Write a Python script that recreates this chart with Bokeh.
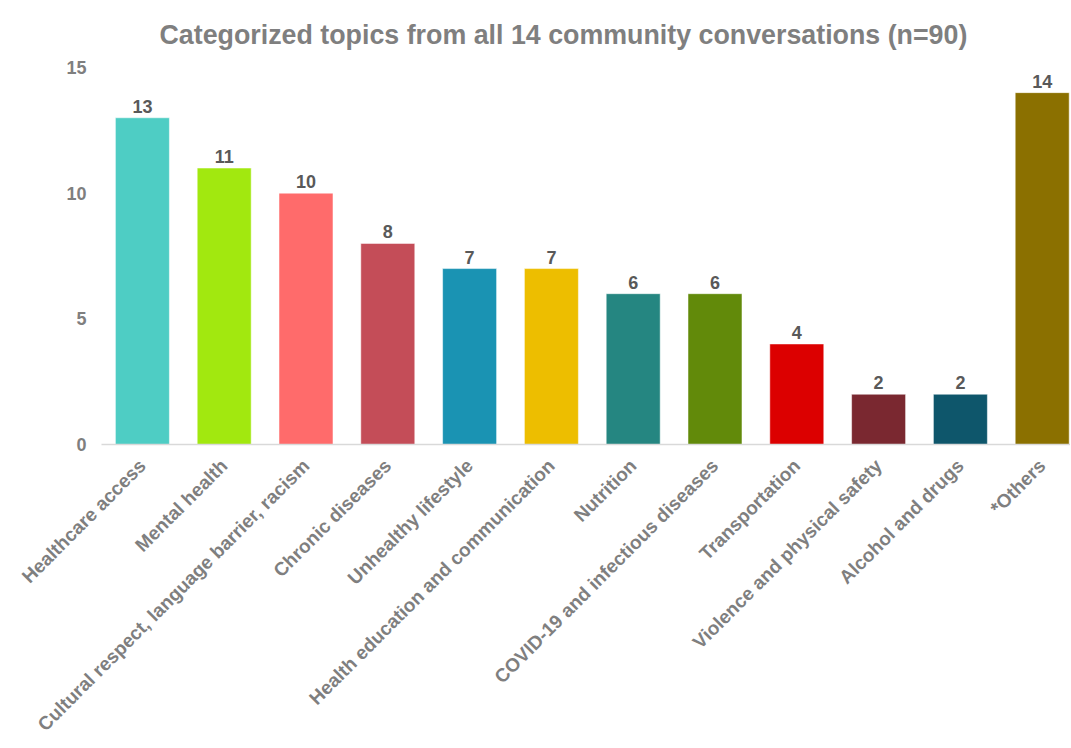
import math
from bokeh.plotting import figure
from bokeh.models import ColumnDataSource, Range1d, FixedTicker, LabelSet
from bokeh.core.properties import value
from bokeh.embed import file_html
from bokeh.resources import INLINE

categories = [
    "Healthcare access", "Mental health", "Cultural respect, language barrier, racism",
    "Chronic diseases", "Unhealthy lifestyle", "Health education and communication",
    "Nutrition", "COVID-19 and infectious diseases", "Transportation",
    "Violence and physical safety", "Alcohol and drugs", "*Others",
]
counts = [13, 11, 10, 8, 7, 7, 6, 6, 4, 2, 2, 14]
colors = ["#4ECDC4", "#A2E80F", "#FF6B6B", "#C44D58", "#1A93B3", "#EDBE00",
          "#258681", "#628A0A", "#DC0000", "#7A2830", "#0E566B", "#8B7000"]
y_ticks = [0, 5, 10, 15]
title_text = "Categorized topics from all 14 community conversations (n=90)"

xpos = [i + 0.5 for i in range(len(categories))]
src = ColumnDataSource(dict(x=xpos, top=counts, color=colors,
                            label=[str(c) for c in counts]))

FONT = "Liberation Sans"
p = figure(width=1070, height=745, output_backend="svg", toolbar_location=None,
           x_range=Range1d(0, 11.846), y_range=Range1d(0, 15),
           min_border_left=101, min_border_right=0, min_border_top=65,
           min_border_bottom=300)
p.outline_line_color = None
p.grid.visible = False

p.title.text = title_text
p.title.text_font = FONT
p.title.text_font_size = "26.8px"
p.title.text_color = "#7f7f7f"
p.title.text_font_style = "bold"
p.title.align = "left"
p.title.offset = 58
p.title.standoff = 35

p.vbar(x="x", top="top", width=0.66, bottom=0, source=src,
       fill_color="color", line_color="white", line_alpha=0.5, line_width=1)

labels = LabelSet(x="x", y="top", text="label", source=src, y_offset=5,
                  text_align="center", text_baseline="bottom",
                  text_font=value(FONT), text_font_size=value("18px"),
                  text_font_style="bold", text_color="#595959")
p.add_layout(labels)

ya = p.yaxis[0]
ya.ticker = FixedTicker(ticks=y_ticks)
ya.axis_line_color = None
ya.major_tick_line_color = None
ya.minor_tick_line_color = None
ya.major_label_text_font = FONT
ya.major_label_text_font_size = "18px"
ya.major_label_text_font_style = "bold"
ya.major_label_text_color = "#7f7f7f"
ya.major_label_standoff = 9

xa = p.xaxis[0]
xa.ticker = FixedTicker(ticks=xpos)
xa.major_label_overrides = {x: c for x, c in zip(xpos, categories)}
xa.major_label_orientation = math.pi / 4
xa.axis_line_color = "#d9d9d9"
xa.axis_line_width = 1.5
xa.major_tick_line_color = None
xa.minor_tick_line_color = None
xa.major_label_text_font = FONT
xa.major_label_text_font_size = "19px"
xa.major_label_text_font_style = "bold"
xa.major_label_text_color = "#7f7f7f"
xa.major_label_standoff = 12

open("out.html", "w").write(file_html(p, INLINE))
